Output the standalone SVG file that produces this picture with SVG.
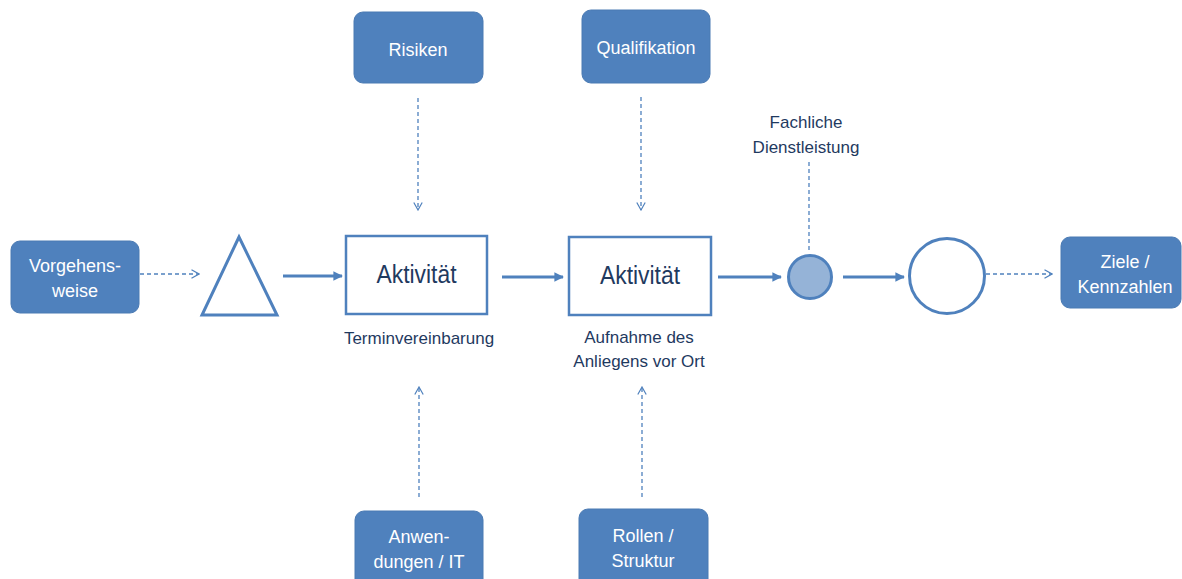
<svg xmlns="http://www.w3.org/2000/svg" width="1182" height="579" viewBox="0 0 1182 579">
  <style>
    .box { fill: #4f81bd; stroke: #4a7ab3; stroke-width: 1; }
    .boxtext { font-family: "Liberation Sans", Arial, sans-serif; font-size: 18px; fill: #ffffff; text-anchor: middle; }
    .label { font-family: "Liberation Sans", Arial, sans-serif; font-size: 17px; fill: #1f3a5f; text-anchor: middle; }
    .act { fill: #ffffff; stroke: #4f81bd; stroke-width: 2.5; }
    .acttext { font-family: "Liberation Sans", Arial, sans-serif; font-size: 25px; fill: #1f3a5f; text-anchor: middle; }
    .flow { fill: none; stroke: #4f81bd; stroke-width: 3; marker-end: url(#solidHead); }
    .dash { fill: none; stroke: #4f81bd; stroke-width: 1.3; stroke-dasharray: 4 3; }
    .dasharrow { marker-end: url(#openHead); }
  </style>
  <defs>
    <marker id="solidHead" viewBox="0 0 10 10" refX="9" refY="5" markerWidth="3.2" markerHeight="3.2" orient="auto">
      <path d="M0,0 L10,5 L0,10 z" fill="#4f81bd"/>
    </marker>
    <marker id="openHead" viewBox="0 0 10 10" refX="9" refY="5" markerWidth="10" markerHeight="10" markerUnits="userSpaceOnUse" orient="auto">
      <path d="M1.5,0.8 L9,5 L1.5,9.2" fill="none" stroke="#4f81bd" stroke-width="1.2"/>
    </marker>
  </defs>

  <rect width="1182" height="579" fill="#ffffff"/>

  <!-- connectors -->
  <g id="connectors">
    <!-- input/output dashed -->
    <line class="dash dasharrow" x1="140" y1="274" x2="199" y2="274"/>
    <line class="dash dasharrow" x1="986" y1="274" x2="1052" y2="274"/>
    <!-- controls from above -->
    <line class="dash dasharrow" x1="418" y1="98" x2="418" y2="210"/>
    <line class="dash dasharrow" x1="641" y1="97" x2="641" y2="210"/>
    <!-- resources from below -->
    <line class="dash dasharrow" x1="419" y1="497" x2="419" y2="387"/>
    <line class="dash dasharrow" x1="642" y1="497" x2="642" y2="387"/>
    <!-- result label line -->
    <line class="dash" x1="809" y1="162" x2="809" y2="253"/>
    <!-- process flow -->
    <line class="flow" x1="283" y1="276" x2="342" y2="276"/>
    <line class="flow" x1="502" y1="277" x2="563" y2="277"/>
    <line class="flow" x1="718" y1="277" x2="781" y2="277"/>
    <line class="flow" x1="843" y1="277" x2="904" y2="277"/>
  </g>

  <g id="vorgehensweise">
    <rect class="box" x="11" y="241" width="128" height="72" rx="9"/>
    <text class="boxtext" x="75" y="272">Vorgehens-</text>
    <text class="boxtext" x="75" y="297">weise</text>
  </g>

  <g id="start">
    <polygon points="239,237 202,315 277,315" fill="#ffffff" stroke="#4f81bd" stroke-width="3" stroke-linejoin="miter"/>
  </g>

  <g id="aktivitaet1">
    <rect class="act" x="346" y="236" width="141" height="78"/>
    <text class="acttext" x="416.5" y="283" textLength="80" lengthAdjust="spacingAndGlyphs">Aktivität</text>
    <text class="label" x="419" y="344">Terminvereinbarung</text>
  </g>

  <g id="aktivitaet2">
    <rect class="act" x="569" y="237" width="142" height="78"/>
    <text class="acttext" x="640" y="284" textLength="80" lengthAdjust="spacingAndGlyphs">Aktivität</text>
    <text class="label" x="639" y="343">Aufnahme des</text>
    <text class="label" x="639" y="367">Anliegens vor Ort</text>
  </g>

  <g id="risiken">
    <rect class="box" x="354" y="12" width="129" height="71" rx="9"/>
    <text class="boxtext" x="418" y="56">Risiken</text>
  </g>

  <g id="qualifikation">
    <rect class="box" x="582" y="10" width="128" height="73" rx="9"/>
    <text class="boxtext" x="646" y="54">Qualifikation</text>
  </g>

  <g id="anwendungen">
    <rect class="box" x="355" y="511" width="128" height="80" rx="9"/>
    <text class="boxtext" x="419" y="543">Anwen-</text>
    <text class="boxtext" x="419" y="568">dungen / IT</text>
  </g>

  <g id="rollen">
    <rect class="box" x="579" y="509" width="129" height="82" rx="9"/>
    <text class="boxtext" x="643" y="542">Rollen /</text>
    <text class="boxtext" x="643" y="567">Struktur</text>
  </g>

  <g id="dienstleistung">
    <circle cx="810" cy="277" r="21.5" fill="#95b3d7" stroke="#4f81bd" stroke-width="3"/>
    <text class="label" x="806" y="128">Fachliche</text>
    <text class="label" x="806" y="153">Dienstleistung</text>
  </g>

  <g id="ergebnis">
    <circle cx="947" cy="276" r="37.5" fill="#ffffff" stroke="#4f81bd" stroke-width="3"/>
  </g>

  <g id="ziele">
    <rect class="box" x="1061" y="237" width="120" height="71" rx="9"/>
    <text class="boxtext" x="1125" y="268">Ziele /</text>
    <text class="boxtext" x="1125" y="293">Kennzahlen</text>
  </g>
</svg>
